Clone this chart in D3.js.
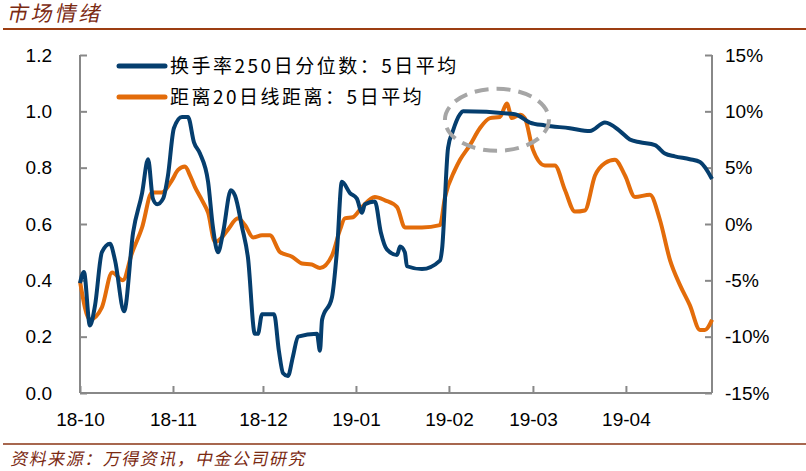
<!DOCTYPE html>
<html><head><meta charset="utf-8">
<script src="https://cdn.jsdelivr.net/npm/d3@7"></script>
<style>body{margin:0;background:#fff}</style></head>
<body><svg id="c" width="806" height="471"></svg>
<script>
const startDate = new Date(2018,9,1);
const tickLabels = ["18-10","18-11","18-12","19-01","19-02","19-03","19-04"];
const tickDates = [[2018,9,1],[2018,10,1],[2018,11,1],[2019,0,1],[2019,1,1],[2019,2,1],[2019,3,1]];
const leftTicks = [0,0.2,0.4,0.6,0.8,1.0,1.2];
const rightTicks = [-15,-10,-5,0,5,10,15];
// day offset from 2018-10-01
const turnoverDays = [0,1.3,3.3,5,7.3,10,11.7,14.7,17.7,20.7,22.7,24.3,25.7,27.7,29.3,31.3,34,36,38,40,42.7,44.3,46,47.7,50.3,51.7,54,56,58.3,59.3,60.7,64.7,66.3,67.7,69.3,71,72.7,79,80,80.7,84,85.7,87.3,90,92.3,94,95,98.3,100.3,102.3,105.7,106.7,108.3,109,114,120,120.7,122.7,124.3,126.7,127.7,145,150,155,163.3,170,175,180,183.3,186.7,191.7,195,198.3,203.3,206.7,210.7];
const turnoverVals = [.39,.43,.24,.31,.50,.53,.47,.29,.57,.71,.83,.69,.67,.69,.77,.94,.98,.98,.89,.85,.75,.59,.50,.57,.72,.70,.59,.48,.21,.21,.28,.28,.15,.07,.06,.13,.20,.21,.15,.26,.34,.51,.75,.71,.69,.64,.67,.68,.57,.51,.49,.52,.50,.45,.44,.47,.51,.87,.93,.99,1.0,.99,.96,.95,.94,.93,.96,.93,.90,.89,.88,.85,.84,.83,.82,.76];
const distDays = [0,3.3,7.3,10.7,14.3,17.3,20.7,24,27.3,30.7,32.7,35,36.7,38.3,40.7,42.7,45,47.3,49.3,52.7,55,57.7,60.7,63.3,66.7,70.7,74,77.3,80,84,86.7,88.3,91,94,98.3,101.7,105.7,108.3,114,120,121.7,125,126.7,130,133.3,136.7,140,142.3,144,146.7,148.3,151,155,158.3,161.7,165,168.3,171.7,175,178.3,181.7,185,190,193.3,196.7,200,203.3,206.7,208.3,210.7];
const distVals = [-5.1,-8.5,-7.4,-4.3,-5.0,-2.6,-0.3,2.8,2.8,3.9,4.8,5.1,4.3,3.3,2.1,1.0,-1.6,-1.2,-0.5,0.5,-0.1,-1.2,-1.0,-1.0,-2.5,-2.9,-3.5,-3.6,-3.9,-2.8,-0.5,0.5,0.6,1.5,2.4,2.1,1.5,-0.3,-0.3,-0.1,2.4,4.8,5.7,7.0,8.5,9.4,9.5,10.7,9.4,9.7,9.4,6.6,5.2,5.2,3.0,1.1,1.2,4.3,5.4,5.7,4.3,2.4,2.6,0.4,-3.2,-5.4,-7.2,-9.4,-9.4,-8.5];
const seriesNames = ["换手率250日分位数：5日平均","距离20日线距离：5日平均"];

const dayToDate = d => new Date(startDate.getTime() + d*86400000);
const svg = d3.select("#c");
const L=80,R=712,T=55,B=393;
const x = d3.scaleTime().domain([startDate, dayToDate(210.7)]).range([L,R]);
const yl = d3.scaleLinear().domain([0,1.2]).range([B,T]);
const yr = d3.scaleLinear().domain([-15,15]).range([B,T]);
const font = "Arial, 'Liberation Sans', sans-serif";
const cjk = "'Noto Sans CJK SC', sans-serif";
const brown="#7B2A12";

svg.append("text").attr("x",8).attr("y",21).attr("font-family",cjk).attr("font-size",21).attr("letter-spacing",3)
  .attr("fill",brown).attr("transform","skewX(-12)").attr("dx",3).text("市场情绪");
svg.append("line").attr("x1",3).attr("x2",806).attr("y1",29).attr("y2",29).attr("stroke","#9C3D12").attr("stroke-width",2);
svg.append("line").attr("x1",3).attr("x2",806).attr("y1",444).attr("y2",444).attr("stroke","#8A3515").attr("stroke-width",1.5);
svg.append("text").attr("x",12).attr("y",465).attr("font-family",cjk).attr("font-size",17).attr("letter-spacing",1.5)
  .attr("fill",brown).attr("transform","skewX(-12)").attr("dx",97).text("资料来源：万得资讯，中金公司研究");

const axc="#888";
const gl = svg.append("g").attr("transform",`translate(${L},0)`)
  .call(d3.axisLeft(yl).tickValues(leftTicks).tickFormat(d3.format(".1f")).tickSize(-7).tickPadding(28));
const gr = svg.append("g").attr("transform",`translate(${R},0)`)
  .call(d3.axisRight(yr).tickValues(rightTicks).tickFormat(d=>d+"%").tickSize(-7).tickPadding(13));
const tds = tickDates.map(a=>new Date(a[0],a[1],a[2]));
const gb = svg.append("g").attr("transform",`translate(0,${B})`)
  .call(d3.axisBottom(x).tickValues(tds).tickFormat((d,i)=>tickLabels[i]).tickSize(-7).tickPadding(20));
[gl,gr,gb].forEach(g=>{
  g.select(".domain").attr("stroke",axc).attr("stroke-width",2);
  g.selectAll(".tick line").attr("stroke",axc).attr("stroke-width",2);
  g.selectAll("text").attr("font-family",font).attr("font-size",19).attr("fill","#000");
});
gl.select(".domain").attr("d",`M0,${T}V${B}`);
gr.select(".domain").attr("d",`M0,${T}V${B}`);
gb.select(".domain").attr("d",`M${L},0H${R}`);

const blue = turnoverDays.map((d,i)=>[dayToDate(d),turnoverVals[i]]);
const orange = distDays.map((d,i)=>[dayToDate(d),distVals[i]]);
svg.append("path").datum(orange).attr("fill","none").attr("stroke","#E36C0A").attr("stroke-width",4)
  .attr("stroke-linejoin","round").attr("d",d3.line().x(d=>x(d[0])).y(d=>yr(d[1])).curve(d3.curveMonotoneX));
svg.append("path").datum(blue).attr("fill","none").attr("stroke","#053E6E").attr("stroke-width",4)
  .attr("stroke-linejoin","round").attr("d",d3.line().x(d=>x(d[0])).y(d=>yl(d[1])).curve(d3.curveMonotoneX));

svg.append("ellipse").attr("cx",x(dayToDate(139))).attr("cy",yl(0.97)).attr("rx",52).attr("ry",31)
  .attr("fill","none").attr("stroke","#A6A6A6").attr("stroke-width",4).attr("stroke-dasharray","14,8");

const lg = svg.append("g");
[["#053E6E",66],["#E36C0A",97]].forEach((c,i)=>{
  lg.append("line").attr("x1",119).attr("x2",165).attr("y1",c[1]).attr("y2",c[1]).attr("stroke",c[0]).attr("stroke-width",5).attr("stroke-linecap","round");
  lg.append("text").attr("x",170).attr("y",c[1]+7).attr("font-family",cjk).attr("font-size",19).attr("letter-spacing",2.5).attr("fill","#000").text(seriesNames[i]);
});
</script></body></html>
